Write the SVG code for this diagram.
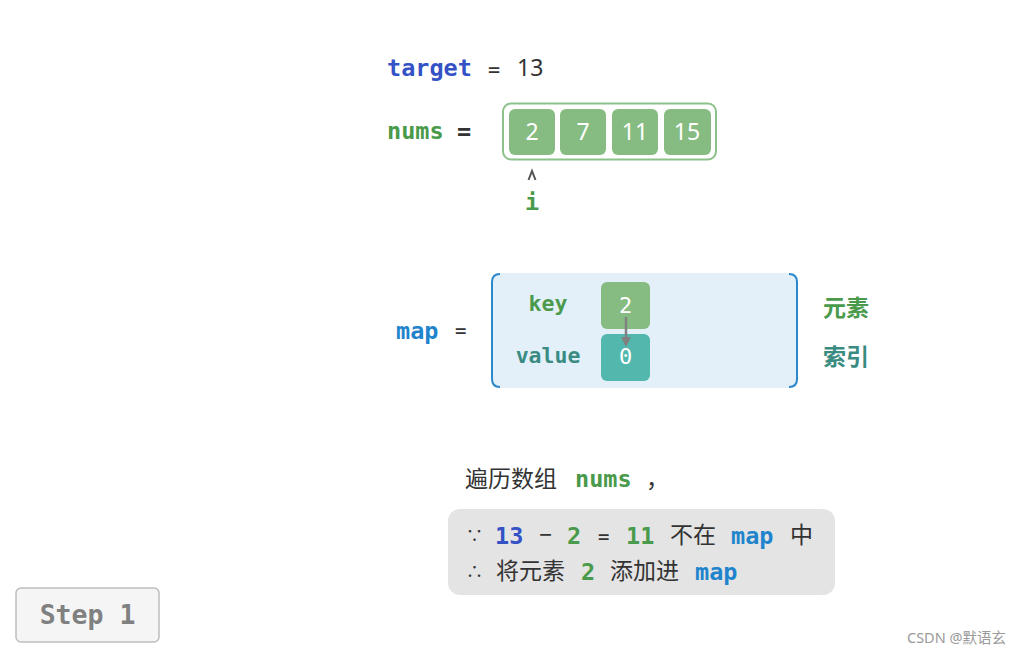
<svg xmlns="http://www.w3.org/2000/svg" width="1022" height="656" viewBox="0 0 1022 656">
<defs>
<style>
.mono{font-family:"DejaVu Sans Mono","Liberation Mono",monospace;font-weight:bold;font-size:23.5px}
.sans{font-family:"Noto Sans","Noto Sans CJK SC",sans-serif;font-size:23px}
.cjk{font-family:"Noto Sans CJK SC","Noto Sans",sans-serif;font-size:23px}
.blue{fill:#3452c6}
.green{fill:#4a9a4c}
.teal{fill:#3a8c82}
.mapc{fill:#1f84cc}
.dark{fill:#333333}
.cell{fill:#86bc82;}
.num{font-family:"Noto Sans",sans-serif;font-size:23px;fill:#ffffff;text-anchor:middle}
</style>
<marker id="ah" markerWidth="10" markerHeight="10" refX="5" refY="5" orient="auto" markerUnits="userSpaceOnUse">
<path d="M0,0 L10,5 L0,10 Z" fill="#808080"/>
</marker>
</defs>
<rect width="1022" height="656" fill="#ffffff"/>

<g id="target">
<text x="387" y="76" class="mono blue">target</text>
<text x="488" y="76" class="mono dark" style="font-weight:normal;font-size:20px">=</text>
<text x="517" y="76" class="sans dark">13</text>
</g>

<g id="nums">
<text x="387" y="139" class="mono green">nums</text>
<text x="457" y="139" class="mono dark">=</text>
<rect x="503" y="103.5" width="213" height="56" rx="8" fill="#ffffff" stroke="#8cc28a" stroke-width="2"/>
<rect x="509" y="109" width="46" height="46" rx="6" class="cell"/>
<rect x="560" y="109" width="46" height="46" rx="6" class="cell"/>
<rect x="612" y="109" width="46" height="46" rx="6" class="cell"/>
<rect x="664" y="109" width="47" height="46" rx="6" class="cell"/>
<text x="532" y="140" class="num">2</text>
<text x="583" y="140" class="num">7</text>
<text x="635" y="140" class="num">11</text>
<text x="687" y="140" class="num">15</text>
</g>

<g id="pointer">
<path d="M528.5,180 L532,171 L535.5,180" fill="none" stroke="#555555" stroke-width="2"/>
<text x="532" y="210" class="mono green" text-anchor="middle">i</text>
</g>

<g id="map">
<text x="396" y="339" class="mono mapc">map</text>
<text x="455" y="337" class="mono dark" style="font-size:19px;font-weight:normal">=</text>
<rect x="491" y="273" width="307" height="115" rx="10" fill="#e3f0fa"/>
<path d="M500,274 Q492,274 492,282 L492,379 Q492,387 500,387" fill="none" stroke="#2a88cc" stroke-width="2"/>
<path d="M789,274 Q797,274 797,282 L797,379 Q797,387 789,387" fill="none" stroke="#2a88cc" stroke-width="2"/>
<text x="548" y="311" class="mono green" text-anchor="middle" style="font-size:21.5px">key</text>
<text x="548" y="363" class="mono teal" text-anchor="middle" style="font-size:21.5px">value</text>
<rect x="601" y="282" width="49" height="47" rx="6" fill="#86bc82"/>
<rect x="601" y="334" width="49" height="47" rx="6" fill="#52b8ad"/>
<text x="625.5" y="313" class="num" style="font-family:'DejaVu Sans Mono',monospace;font-size:22px">2</text>
<text x="625.5" y="364" class="num" style="font-family:'DejaVu Sans Mono',monospace;font-size:22px">0</text>
<text x="823" y="316" class="cjk green" style="font-weight:bold">元素</text>
<text x="823" y="365" class="cjk teal" style="font-weight:bold">索引</text>
</g>

<g id="connectors">
<line x1="626" y1="317" x2="626" y2="342" stroke="#808080" stroke-width="2.5" marker-end="url(#ah)"/>
</g>

<g id="caption">
<text x="465" y="487" class="cjk dark">遍历数组</text>
<text x="575" y="487" class="mono green">nums</text>
<text x="646" y="487" class="cjk dark">，</text>
</g>

<g id="explain">
<rect x="448" y="509" width="387" height="86" rx="12" fill="#e4e4e4"/>
<text x="466" y="542" class="cjk dark" style="font-size:17px">∵</text>
<text x="495" y="544" class="mono blue">13</text>
<text x="539" y="543" class="sans dark">−</text>
<text x="567" y="544" class="mono green">2</text>
<text x="598" y="543" class="mono dark" style="font-size:19px;font-weight:normal">=</text>
<text x="626" y="544" class="mono green">11</text>
<text x="670" y="543" class="cjk dark">不在</text>
<text x="731" y="544" class="mono mapc">map</text>
<text x="790" y="543" class="cjk dark">中</text>
<text x="466" y="578" class="cjk dark" style="font-size:17px">∴</text>
<text x="496" y="579" class="cjk dark">将元素</text>
<text x="581" y="580" class="mono green">2</text>
<text x="610" y="579" class="cjk dark">添加进</text>
<text x="695" y="580" class="mono mapc">map</text>
</g>

<g id="step">
<rect x="16" y="588" width="143" height="54" rx="5" fill="#f5f5f5" stroke="#bdbdbd" stroke-width="1.5"/>
<text x="87.5" y="624" class="mono" text-anchor="middle" style="fill:#808080;font-size:26.5px">Step 1</text>
</g>

<text x="907" y="643" style="font-family:'Noto Sans','Noto Sans CJK SC',sans-serif;font-size:14.5px;fill:#9a9a9a">CSDN @默语玄</text>
</svg>
